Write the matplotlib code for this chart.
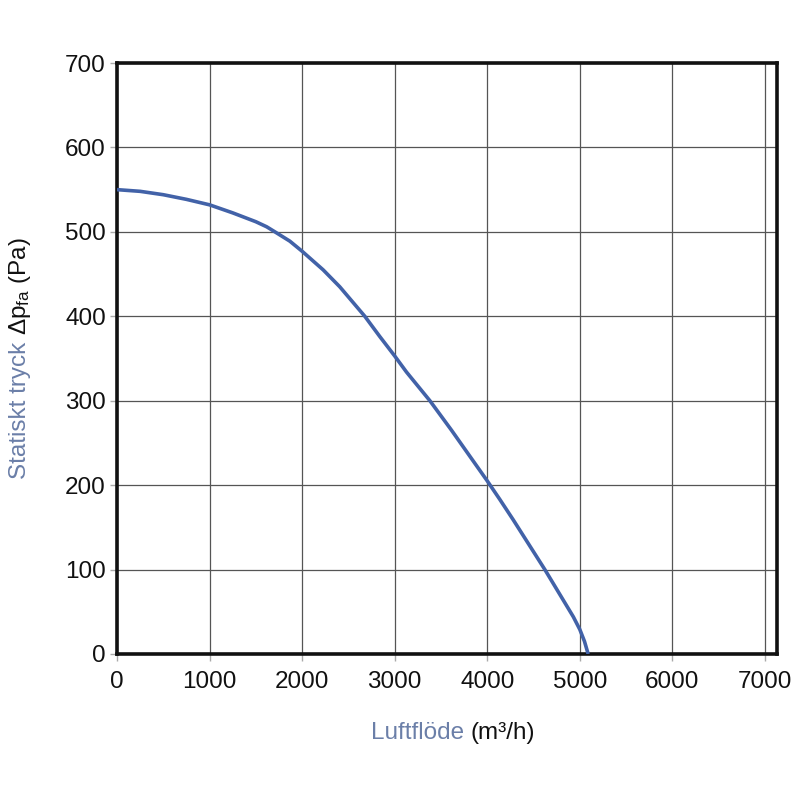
import matplotlib
matplotlib.use("Agg")
import matplotlib.pyplot as plt

plt.rcParams['font.family'] = ['Liberation Sans', 'DejaVu Sans']
plt.rcParams['mathtext.fontset'] = 'custom'
plt.rcParams['mathtext.rm'] = 'Liberation Sans'
plt.rcParams['mathtext.it'] = 'Liberation Sans'

# data
flow = [0, 250, 500, 750, 1000, 1250, 1500, 1617, 1706, 1867, 2000, 2227, 2406,
        2677, 2839, 3000, 3127, 3380, 3614, 3794, 4000, 4136, 4280, 4622, 4820,
        4930, 5000, 5050, 5090]
pressure = [550, 548, 544, 538.5, 532, 522.5, 512, 506, 500, 489, 477, 455, 435,
            400, 376, 353, 334, 300, 265, 237, 205, 183, 159, 100, 64,
            44, 29, 15, 0]
xticks = [0, 1000, 2000, 3000, 4000, 5000, 6000, 7000]
yticks = [0, 100, 200, 300, 400, 500, 600, 700]

label_col = '#6b7fa8'
curve_col = '#4262a8'
FS = 17.5

fig = plt.figure(figsize=(8, 8), dpi=100)
ax = fig.add_axes([117/800, 1-654/800, 660/800, 591/800])

ax.plot(flow, pressure, color=curve_col, lw=2.6, solid_joinstyle='round',
        solid_capstyle='butt', zorder=3)

ax.set_xlim(0, 7130)
ax.set_ylim(0, 700)
ax.set_xticks(xticks)
ax.set_yticks(yticks)
ax.set_xticklabels([str(v) for v in xticks])
ax.set_yticklabels([str(v) for v in yticks])
ax.grid(True, color='#555555', lw=0.9)
ax.set_axisbelow(True)
for s in ax.spines.values():
    s.set_linewidth(2.6)
    s.set_color('#111111')
ax.tick_params(axis='both', which='major', labelsize=FS, length=5, width=1,
               color='#aaaaaa', labelcolor='#111111')
ax.tick_params(axis='x', pad=7)
ax.tick_params(axis='y', pad=3)

fig.canvas.draw()
r = fig.canvas.get_renderer()

# x label: two colours
xl1 = fig.text(0, 1 - 733/800, "Luftflöde ", fontsize=FS, color=label_col, va='center', ha='left')
xl2 = fig.text(0, 1 - 733/800, "(m³/h)", fontsize=FS, color='#111111', va='center', ha='left')
w1 = xl1.get_window_extent(r).width
w2 = xl2.get_window_extent(r).width
cx = 453
x0 = cx - (w1 + w2) / 2
xl1.set_x(x0 / 800)
xl2.set_x((x0 + w1) / 800)

# y label: two colours, rotated
yl1 = fig.text(20/800, 0, "Statiskt tryck ", fontsize=FS, color=label_col, rotation=90,
               va='bottom', ha='center')
yl2 = fig.text(20/800, 0, "Δp$_{\\mathregular{fa}}$ (Pa)", fontsize=FS, color='#111111',
               rotation=90, va='bottom', ha='center')
h1 = yl1.get_window_extent(r).height
h2 = yl2.get_window_extent(r).height
cy = 800 - 358
y0 = cy - (h1 + h2) / 2
yl1.set_y(y0 / 800)
yl2.set_y((y0 + h1) / 800)

fig.savefig('out.png', dpi=100, facecolor='white')
